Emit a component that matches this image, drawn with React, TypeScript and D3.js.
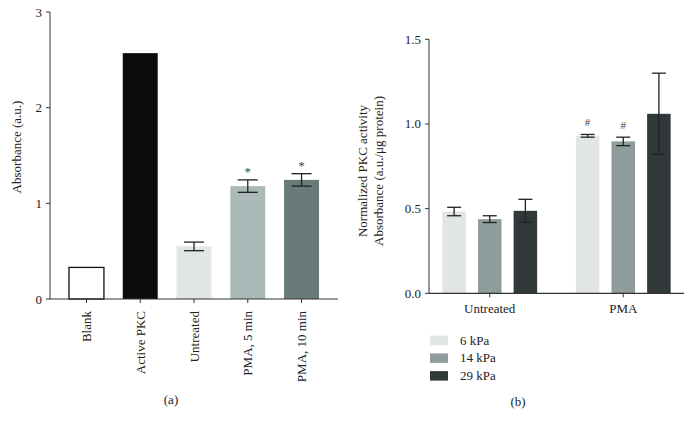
import React from "react";
import * as d3 from "d3";

// Panel (a)
const catsA = ["Blank", "Active PKC", "Untreated", "PMA, 5 min", "PMA, 10 min"];
const valsA = [0.33, 2.57, 0.55, 1.18, 1.245];
const errA = [0, 0, 0.045, 0.065, 0.065];
const sigA = ["", "", "", "*", "*"];
const colorsA = ["#ffffff", "#0a0c0b", "#e1e6e5", "#abb9b8", "#687b78"];
const ticksA = [0, 1, 2, 3];

// Panel (b)
const groupsB = ["Untreated", "PMA"];
const seriesB = ["6 kPa", "14 kPa", "29 kPa"];
const valsB = [
  [0.483, 0.438, 0.487],
  [0.93, 0.897, 1.06],
];
const errB = [
  [0.025, 0.02, 0.068],
  [0.008, 0.025, 0.24],
];
const sigB = [
  ["", "", ""],
  ["#", "#", ""],
];
const colorsB = ["#e1e6e5", "#8e9d9b", "#313839"];
const ticksB = [0, 0.5, 1.0, 1.5];

const FONT = "'Liberation Serif', 'DejaVu Serif', serif";
const AX = "#333";

export default function App() {
  // Panel a scales
  const xA = d3.scaleBand<string>().domain(catsA).range([50, 338]).paddingInner(0.35).paddingOuter(0.353);
  const yA = d3.scaleLinear().domain([0, 3]).range([299, 12]);

  // Panel b scales
  const x0 = d3.scaleBand<string>().domain(groupsB).range([429, 684]).paddingInner(0.29).paddingOuter(0.1);
  const x1 = d3.scaleBand<string>().domain(seriesB).range([0, x0.bandwidth()]).paddingInner(0.34).paddingOuter(0);
  const yB = d3.scaleLinear().domain([0, 1.5]).range([293.3, 39.3]);

  const cap = 7;

  return (
    <svg width={693} height={427} style={{ position: "absolute", left: 0, top: 0, background: "#fff" }} fontFamily={FONT}>
      {/* Panel a */}
      <g>
        {catsA.map((c, i) => (
          <rect key={c} x={xA(c)} y={yA(valsA[i])} width={xA.bandwidth()} height={yA(0) - yA(valsA[i])}
            fill={colorsA[i]} stroke={i === 0 ? "#111" : "none"} strokeWidth={1.3} />
        ))}
        {catsA.map((c, i) => {
          if (!errA[i]) return null;
          const cx = (xA(c) as number) + xA.bandwidth() / 2;
          const t = yA(valsA[i] + errA[i]);
          const b = yA(valsA[i] - errA[i]);
          return (
            <g key={"e" + c} stroke="#222" strokeWidth={1.3}>
              <line x1={cx} x2={cx} y1={t} y2={b} />
              <line x1={cx - 10} x2={cx + 10} y1={t} y2={t} />
              <line x1={cx - 10} x2={cx + 10} y1={b} y2={b} />
            </g>
          );
        })}
        {catsA.map((c, i) => sigA[i] ? (
          <text key={"s" + c} x={(xA(c) as number) + xA.bandwidth() / 2} y={yA(valsA[i] + errA[i]) - 4}
            textAnchor="middle" fontSize={13} fill="#444">{sigA[i]}</text>
        ) : null)}
        <line x1={50} x2={50} y1={yA(3)} y2={yA(0)} stroke={AX} strokeWidth={1} />
        <line x1={50} x2={338} y1={yA(0)} y2={yA(0)} stroke={AX} strokeWidth={1.2} />
        {ticksA.map((t) => (
          <g key={t}>
            <line x1={46} x2={50} y1={yA(t)} y2={yA(t)} stroke={AX} />
            <text x={42} y={yA(t) + 4.5} textAnchor="end" fontSize={13} fill="#222">{t}</text>
          </g>
        ))}
        {catsA.map((c) => {
          const cx = (xA(c) as number) + xA.bandwidth() / 2;
          return (
            <g key={"xt" + c}>
              <line x1={cx} x2={cx} y1={299} y2={303} stroke={AX} />
              <text transform={`translate(${cx + 4.5},311) rotate(-90)`} textAnchor="end" fontSize={13} fill="#222">{c}</text>
            </g>
          );
        })}
        <text transform={`translate(21,147) rotate(-90)`} textAnchor="middle" fontSize={13} fill="#222">Absorbance (a.u.)</text>
        <text x={171} y={404} textAnchor="middle" fontSize={13} fill="#222">(a)</text>
      </g>

      {/* Panel b */}
      <g>
        {groupsB.map((g, gi) => (
          <g key={g} transform={`translate(${x0(g)},0)`}>
            {seriesB.map((s, si) => (
              <rect key={s} x={x1(s)} y={yB(valsB[gi][si])} width={x1.bandwidth()} height={yB(0) - yB(valsB[gi][si])} fill={colorsB[si]} />
            ))}
            {seriesB.map((s, si) => {
              const cx = (x1(s) as number) + x1.bandwidth() / 2;
              const t = yB(valsB[gi][si] + errB[gi][si]);
              const b = yB(valsB[gi][si] - errB[gi][si]);
              return (
                <g key={"e" + s} stroke="#222" strokeWidth={1.3}>
                  <line x1={cx} x2={cx} y1={t} y2={b} />
                  <line x1={cx - cap} x2={cx + cap} y1={t} y2={t} />
                  <line x1={cx - cap} x2={cx + cap} y1={b} y2={b} />
                </g>
              );
            })}
            {seriesB.map((s, si) => sigB[gi][si] ? (
              <text key={"s" + s} x={(x1(s) as number) + x1.bandwidth() / 2} y={yB(valsB[gi][si] + errB[gi][si]) - 8}
                textAnchor="middle" fontSize={11} fill="#444">{sigB[gi][si]}</text>
            ) : null)}
          </g>
        ))}
        <line x1={429} x2={429} y1={yB(1.5)} y2={yB(0)} stroke={AX} strokeWidth={1} />
        <line x1={429} x2={684} y1={yB(0)} y2={yB(0)} stroke={AX} strokeWidth={1.2} />
        {ticksB.map((t) => (
          <g key={t}>
            <line x1={425} x2={429} y1={yB(t)} y2={yB(t)} stroke={AX} />
            <text x={421} y={yB(t) + 4.5} textAnchor="end" fontSize={13} fill="#222">{t.toFixed(1)}</text>
          </g>
        ))}
        {groupsB.map((g) => {
          const cx = (x0(g) as number) + x0.bandwidth() / 2;
          return (
            <g key={"xt" + g}>
              <line x1={cx} x2={cx} y1={yB(0)} y2={yB(0) + 4} stroke={AX} />
              <text x={cx} y={313} textAnchor="middle" fontSize={13} fill="#222">{g}</text>
            </g>
          );
        })}
        <text transform={`translate(366.5,171) rotate(-90)`} textAnchor="middle" fontSize={13} fill="#222">Normalized PKC activity</text>
        <text transform={`translate(382.5,171) rotate(-90)`} textAnchor="middle" fontSize={13} fill="#222">Absorbance (a.u./μg protein)</text>
        {seriesB.map((s, si) => (
          <g key={"lg" + s}>
            <rect x={430} y={335.7 + si * 17.7} width={18} height={9.5} fill={colorsB[si]} />
            <text x={460} y={344.5 + si * 17.7} fontSize={13} fill="#222">{s}</text>
          </g>
        ))}
        <text x={518} y={406} textAnchor="middle" fontSize={13} fill="#222">(b)</text>
      </g>
    </svg>
  );
}
